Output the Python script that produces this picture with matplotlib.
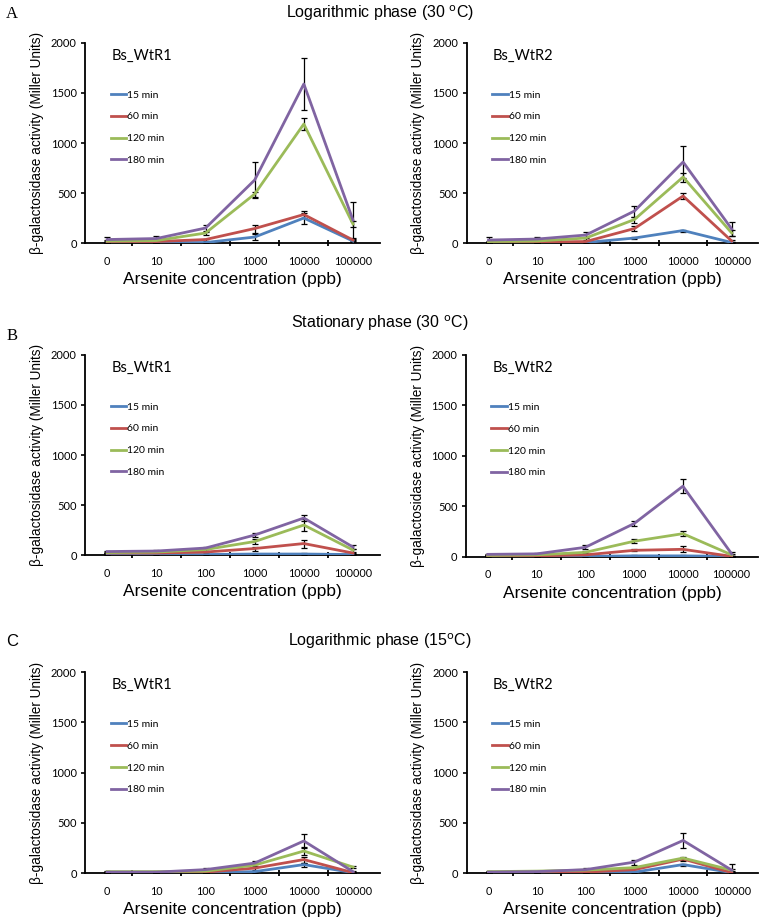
import numpy as np
import matplotlib.pyplot as plt
from matplotlib.lines import Line2D

# arsenite concentrations (categorical x axis)
conc = ['0', '10', '100', '1000', '10000', '100000']
times = ['15 min', '60 min', '120 min', '180 min']
colors = ['#4F81BD', '#C0504D', '#9BBB59', '#8064A2']

# A: logarithmic phase 30 C
a1_mean = [[5, 5, 5, 60, 250, 20],
           [15, 15, 35, 145, 285, 30],
           [20, 25, 100, 490, 1190, 190],
           [35, 45, 150, 630, 1590, 230]]
a1_err = [[5, 5, 5, 30, 55, 10],
          [10, 10, 10, 40, 35, 10],
          [10, 10, 15, 25, 60, 30],
          [30, 30, 30, 180, 260, 180]]
a2_mean = [[5, 5, 5, 50, 125, 5],
           [10, 10, 15, 145, 470, 20],
           [15, 20, 50, 235, 660, 100],
           [30, 40, 80, 320, 810, 140]]
a2_err = [[3, 3, 3, 10, 10, 3],
          [5, 5, 5, 25, 30, 10],
          [10, 10, 15, 30, 45, 30],
          [30, 20, 30, 55, 160, 70]]

# B: stationary phase 30 C
b1_mean = [[5, 5, 5, 10, 10, 5],
           [20, 20, 30, 65, 115, 20],
           [25, 30, 55, 135, 300, 50],
           [35, 40, 70, 200, 370, 80]]
b1_err = [[3, 3, 3, 5, 10, 3],
          [5, 5, 5, 20, 40, 5],
          [5, 5, 10, 25, 60, 15],
          [10, 10, 10, 20, 30, 20]]
b2_mean = [[5, 5, 5, 10, 10, 5],
           [10, 10, 20, 65, 75, 5],
           [15, 20, 45, 155, 230, 20],
           [25, 30, 95, 330, 700, 30]]
b2_err = [[3, 3, 3, 5, 5, 3],
          [5, 5, 5, 10, 30, 5],
          [5, 5, 10, 20, 25, 10],
          [5, 5, 20, 25, 70, 20]]

# C: logarithmic phase 15 C
c1_mean = [[5, 5, 5, 15, 85, 5],
           [5, 5, 10, 50, 135, 5],
           [15, 15, 20, 80, 220, 60],
           [10, 10, 35, 100, 320, 15]]
c1_err = [[3, 3, 3, 10, 20, 3],
          [3, 3, 5, 15, 30, 5],
          [5, 5, 5, 15, 40, 10],
          [5, 5, 20, 25, 70, 10]]
c2_mean = [[5, 5, 5, 10, 85, 5],
           [5, 5, 10, 35, 140, 5],
           [15, 20, 30, 55, 150, 30],
           [10, 15, 35, 110, 325, 30]]
c2_err = [[3, 3, 3, 5, 10, 3],
          [3, 3, 5, 10, 15, 5],
          [5, 5, 5, 10, 15, 10],
          [5, 5, 15, 25, 70, 60]]

panels = [
    (a1_mean, a1_err, 'Bs_WtR1', [0.112, 0.7364, 0.388, 0.217]),
    (a2_mean, a2_err, 'Bs_WtR2', [0.614, 0.7364, 0.384, 0.217]),
    (b1_mean, b1_err, 'Bs_WtR1', [0.112, 0.398, 0.388, 0.217]),
    (b2_mean, b2_err, 'Bs_WtR2', [0.613, 0.396, 0.385, 0.219]),
    (c1_mean, c1_err, 'Bs_WtR1', [0.112, 0.053, 0.388, 0.218]),
    (c2_mean, c2_err, 'Bs_WtR2', [0.614, 0.053, 0.384, 0.218]),
]

fig = plt.figure(figsize=(7.6, 9.22), dpi=100)
x = np.arange(len(conc))
sans = 'Liberation Sans'
tickfont = 'Lato'

for mean, err, name, pos in panels:
    ax = fig.add_axes(pos)
    for m, e, c, t in zip(mean, err, colors, times):
        ax.errorbar(x, m, yerr=e, color=c, lw=2, ecolor='black',
                    elinewidth=0.9, capsize=2, capthick=0.9, label=t, zorder=3)
    ax.set_xlim(-0.45, 5.55)
    ax.set_ylim(0, 2000)
    ax.set_yticks([0, 500, 1000, 1500, 2000])
    ax.set_xticks(x)
    ax.set_xticklabels(conc, fontfamily=tickfont, fontsize=7.8)
    ax.set_xticks(np.arange(0.5, 5.5, 1), minor=True)
    ax.tick_params(axis='x', which='major', length=0, pad=9)
    ax.tick_params(axis='x', which='minor', length=4, width=1.3, direction='inout')
    ax.tick_params(axis='y', length=3, width=1.2, labelsize=8, pad=3)
    for lab in ax.get_yticklabels():
        lab.set_fontfamily(tickfont)
    for s in ['top', 'right']:
        ax.spines[s].set_visible(False)
    ax.spines['left'].set_linewidth(1.3)
    ax.spines['bottom'].set_linewidth(1.3)
    ax.set_ylabel('β-galactosidase activity (Miller Units)', fontfamily=sans,
                  fontsize=9.8, labelpad=5)
    ax.set_xlabel('Arsenite concentration (ppb)', fontfamily=sans, fontsize=12.5,
                  labelpad=4)
    ax.text(0.09, 0.935, name, transform=ax.transAxes, fontfamily=tickfont,
            fontsize=10.5, va='center')
    handles = [Line2D([], [], color=c, lw=2) for c in colors]
    ax.legend(handles, times, loc='upper left', bbox_to_anchor=(0.055, 0.81),
              frameon=False, handlelength=1.5, handletextpad=0.1,
              labelspacing=1.2, prop={'family': tickfont, 'size': 7.5})

fig.text(0.5, 0.986, 'Logarithmic phase (30 $^{\\rm o}$C)', ha='center', va='center',
         fontfamily=sans, fontsize=11.5)
fig.text(0.5, 0.649, 'Stationary phase (30 $^{\\rm o}$C)', ha='center', va='center',
         fontfamily=sans, fontsize=11.5)
fig.text(0.5, 0.305, 'Logarithmic phase (15$^{\\rm o}$C)', ha='center', va='center',
         fontfamily=sans, fontsize=11.5)
fig.text(0.008, 0.985, 'A', fontfamily='Liberation Serif', fontsize=12, va='center')
fig.text(0.008, 0.636, 'B', fontfamily='Liberation Serif', fontsize=12, va='center')
fig.text(0.008, 0.304, 'C', fontfamily=sans, fontsize=12, va='center')

fig.savefig('out.png', dpi=100)
